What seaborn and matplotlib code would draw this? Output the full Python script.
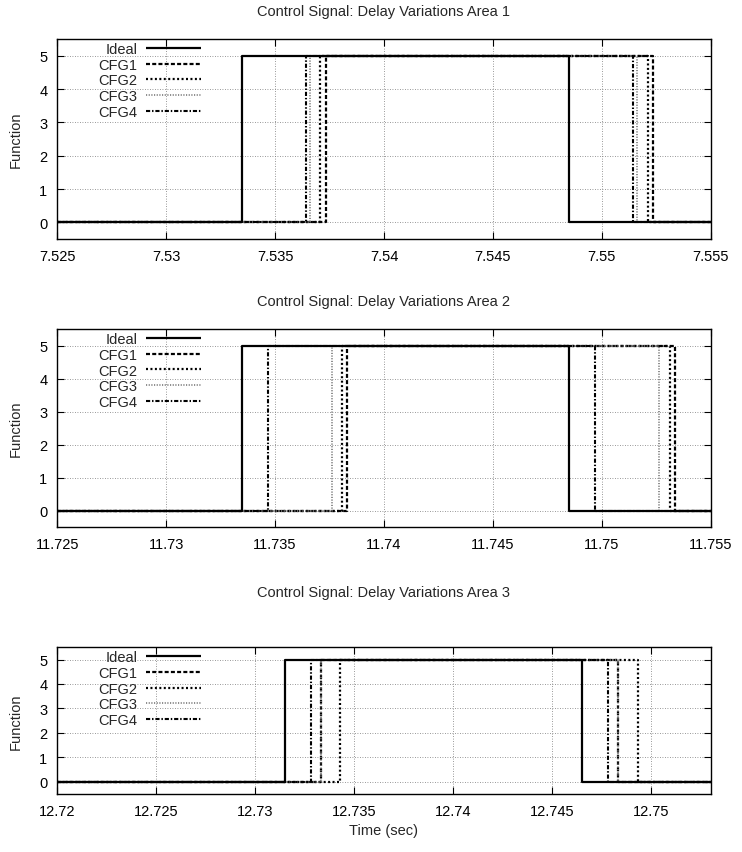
import matplotlib
matplotlib.use("Agg")
import matplotlib.pyplot as plt
import pandas as pd
import seaborn as sns

# Signal names (legend order)
series = ["Ideal", "CFG1", "CFG2", "CFG3", "CFG4"]

# Rising / falling edge times (s) of the 0 -> 5 -> 0 pulse, per configuration
area1_rise = [7.5335, 7.53734, 7.53708, 7.53659, 7.53640]
area1_fall = [7.5485, 7.55233, 7.55210, 7.55161, 7.55142]

area2_rise = [11.7335, 11.73831, 11.73808, 11.73760, 11.73468]
area2_fall = [11.7485, 11.75336, 11.75312, 11.75263, 11.74968]

area3_rise = [12.7315, 12.73332, 12.73430, 12.73330, 12.73282]
area3_fall = [12.7465, 12.74833, 12.74932, 12.74830, 12.74782]

# Observation windows (s)
area1_window = [7.525, 7.555]
area2_window = [11.725, 11.755]
area3_window = [12.72, 12.753]

# Tick positions / labels
area1_ticks = [7.525, 7.53, 7.535, 7.54, 7.545, 7.55, 7.555]
area2_ticks = [11.725, 11.73, 11.735, 11.74, 11.745, 11.75, 11.755]
area3_ticks = [12.72, 12.725, 12.73, 12.735, 12.74, 12.745, 12.75]
y_ticks = [0, 1, 2, 3, 4, 5]

low_level = 0
high_level = 5

titles = [
    "Control Signal: Delay Variations Area 1",
    "Control Signal: Delay Variations Area 2",
    "Control Signal: Delay Variations Area 3",
]

sns.set_theme(style="ticks")
plt.rcParams["font.family"] = ["Liberation Sans", "DejaVu Sans"]
plt.rcParams["font.size"] = 10.5

palette = {"Ideal": "black", "CFG1": "black", "CFG2": "black",
           "CFG3": "#7a7a7a", "CFG4": "black"}
dashes = {"Ideal": "", "CFG1": (1.8, 1.0), "CFG2": (0.9, 1.1),
          "CFG3": (0.7, 0.9), "CFG4": (2.0, 0.9, 0.7, 0.9)}
sizes = {"Ideal": 1.6, "CFG1": 1.6, "CFG2": 1.6, "CFG3": 1.2, "CFG4": 1.5}


def pulse_frame(rise, fall, window):
    rows = []
    for name, r, f in zip(series, rise, fall):
        for t, v in zip([window[0], r, f, window[1]],
                        [low_level, high_level, low_level, low_level]):
            rows.append({"t": t, "v": v, "series": name})
    return pd.DataFrame(rows)


fig = plt.figure(figsize=(7.42, 8.53), dpi=100)
boxes = [
    [0.077, 0.7186, 0.881, 0.2345],
    [0.077, 0.381, 0.881, 0.232],
    [0.077, 0.068, 0.881, 0.172],
]
title_pads = [17, 17, 37]
panels = [
    (area1_rise, area1_fall, area1_window, area1_ticks),
    (area2_rise, area2_fall, area2_window, area2_ticks),
    (area3_rise, area3_fall, area3_window, area3_ticks),
]

for i, ((rise, fall, window, ticks), box, title, tpad) in enumerate(
        zip(panels, boxes, titles, title_pads)):
    ax = fig.add_axes(box)
    df = pulse_frame(rise, fall, window)
    sns.lineplot(data=df, x="t", y="v", hue="series", style="series", size="series",
                 hue_order=series, style_order=series, size_order=series,
                 palette=palette, dashes=dashes, sizes=sizes,
                 sort=False, estimator=None, drawstyle="steps-post",
                 legend=False, ax=ax)
    lines = ax.get_lines()
    for ln, name in zip(lines, series):
        ln.set_label(name)
        ln.set_solid_capstyle("butt")
        ln.set_dash_capstyle("butt")
        if name == "Ideal":
            ln.set_zorder(3)
    ax.set_xlim(window)
    ax.set_ylim(-0.5, 5.5)
    ax.set_xticks(ticks)
    ax.set_xticklabels([f"{t:g}" for t in ticks])
    ax.set_yticks(y_ticks)
    ax.grid(True, linestyle=(0, (1, 2)), color="#777777", linewidth=0.6)
    ax.tick_params(direction="in", top=True, right=True, length=5, width=0.8,
                   labelsize=10.5, pad=7, colors="black")
    for sp in ax.spines.values():
        sp.set_linewidth(1.0)
        sp.set_color("black")
    ax.set_title(title, fontsize=10.5, pad=tpad)
    ax.set_ylabel("Function", fontsize=10.5, labelpad=12)
    ax.set_xlabel("Time (sec)" if i == 2 else "", fontsize=10.5)
    ax.legend(handles=lines, labels=series, loc="upper right",
              bbox_to_anchor=(0.225, 1.0), frameon=False, markerfirst=False,
              handlelength=3.8, handletextpad=0.6, labelspacing=0.12,
              borderaxespad=0.0, borderpad=0.2, fontsize=10.5)

fig.savefig("out.png", dpi=100)
